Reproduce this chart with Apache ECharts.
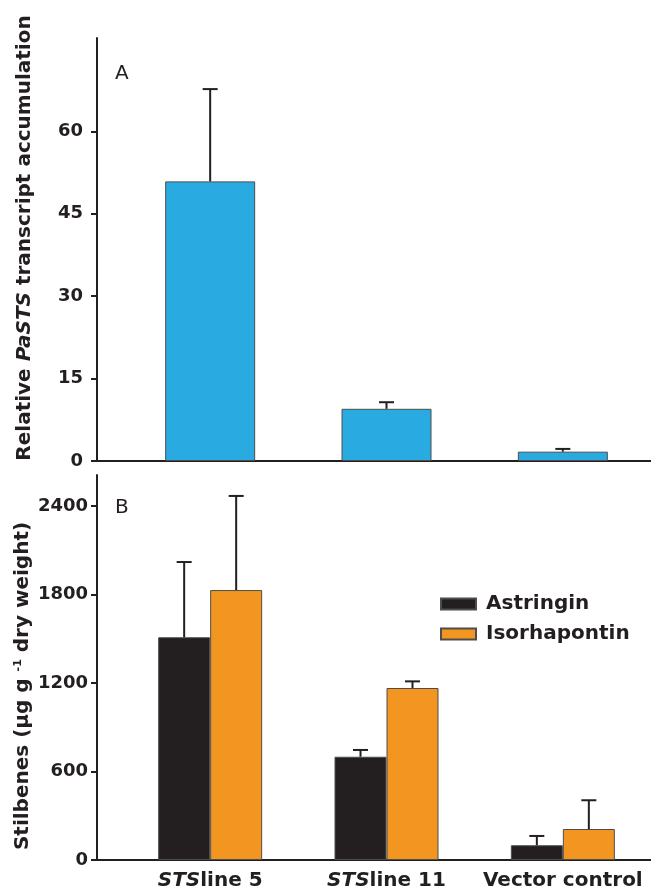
<!DOCTYPE html>
<html>
<head>
<meta charset="utf-8">
<script src="https://cdn.jsdelivr.net/npm/echarts@6/dist/echarts.min.js"></script>
<style>
html,body{margin:0;padding:0;background:#fff;}
#chart{width:651px;height:892px;}
</style>
</head>
<body>
<div id="chart"></div>
<script>
// ---- data ----
const categories = ['STS line 5', 'STS line 11', 'Vector control'];
const transcript = [50.9, 9.5, 1.7];
const transcriptErr = [16.8, 1.2, 0.5];
const astringin = [1510, 700, 100];
const astringinErr = [510, 46, 63];
const isorhapontin = [1830, 1166, 210];
const isorhapontinErr = [638, 45, 195];
const topTicks = [0, 15, 30, 45, 60];
const bottomTicks = [0, 600, 1200, 1800, 2400];

// ---- style ----
const FONT = 'DejaVu Sans';
const INK = '#231f20';
const groupBarWidth = 52;

function errRenderer(offset) {
  return function (params, api) {
    const i = api.value(0), v = api.value(1), e = api.value(2);
    const base = api.coord([i, v]);
    const top = api.coord([i, v + e]);
    const x = base[0] + offset;
    const st = { stroke: INK, lineWidth: 2 };
    return {
      type: 'group',
      children: [
        { type: 'line', shape: { x1: x, y1: base[1], x2: x, y2: top[1] }, style: st },
        { type: 'line', shape: { x1: x - 7.5, y1: top[1], x2: x + 7.5, y2: top[1] }, style: st }
      ]
    };
  };
}

const chart = echarts.init(document.getElementById('chart'), null, { renderer: 'canvas' });

const gridLeft = 122;
const yAxisCommon = {
  type: 'value',
  min: 0,
  offset: gridLeft - 97,
  axisLine: { show: true, lineStyle: { color: INK, width: 2 } },
  axisTick: { show: true, length: 6, lineStyle: { color: INK, width: 2 } },
  axisLabel: { color: INK, fontFamily: FONT, fontWeight: 'bold', fontSize: 18, formatter: v => String(v) },
  splitLine: { show: false }
};

const option = {
  backgroundColor: '#fff',
  animation: false,
  grid: [
    { left: gridLeft, right: 0, top: 38, height: 423 },
    { left: gridLeft, right: 0, top: 475, height: 385 }
  ],
  xAxis: [
    {
      type: 'category', gridIndex: 0, data: categories,
      axisLine: { lineStyle: { color: INK, width: 2 } },
      axisTick: { show: false }, axisLabel: { show: false }
    },
    {
      type: 'category', gridIndex: 1, data: categories,
      axisLine: { lineStyle: { color: INK, width: 2 } },
      axisTick: { show: false },
      axisLabel: {
        interval: 0, margin: 11,
        formatter: function (v) {
          if (v.indexOf('STS ') === 0) return '{i|STS}{b|' + v.slice(4) + '}';
          return '{b|' + v + '}';
        },
        rich: {
          i: { fontFamily: FONT, fontWeight: 'bold', fontStyle: 'italic', fontSize: 20, color: INK },
          b: { fontFamily: FONT, fontWeight: 'bold', fontSize: 20, color: INK }
        }
      }
    }
  ],
  yAxis: [
    Object.assign({}, yAxisCommon, {
      gridIndex: 0, max: 77, interval: 15,
      axisTick: Object.assign({}, yAxisCommon.axisTick, { customValues: topTicks }),
      axisLabel: Object.assign({}, yAxisCommon.axisLabel, { customValues: topTicks, margin: 14 })
    }),
    Object.assign({}, yAxisCommon, {
      gridIndex: 1, max: 2610, interval: 600,
      axisTick: Object.assign({}, yAxisCommon.axisTick, { customValues: bottomTicks }),
      axisLabel: Object.assign({}, yAxisCommon.axisLabel, { customValues: bottomTicks, margin: 9 })
    })
  ],
  legend: {
    orient: 'vertical',
    left: 435, top: 589,
    itemWidth: 35, itemHeight: 11, itemGap: 10,
    icon: 'rect',
    data: ['Astringin', 'Isorhapontin'],
    textStyle: { fontFamily: FONT, fontWeight: 'bold', fontSize: 20, color: INK, padding: [0, 0, 0, 5] }
  },
  series: [
    {
      name: 'Transcript', type: 'bar', xAxisIndex: 0, yAxisIndex: 0,
      data: transcript, barWidth: 90,
      itemStyle: { color: '#29abe2', borderColor: '#4d4d4d', borderWidth: 1 }
    },
    {
      type: 'custom', xAxisIndex: 0, yAxisIndex: 0, z: 5,
      renderItem: errRenderer(0),
      encode: { x: 0, y: 1 },
      data: categories.map((c, i) => [i, transcript[i], transcriptErr[i]])
    },
    {
      name: 'Astringin', type: 'bar', xAxisIndex: 1, yAxisIndex: 1,
      data: astringin, barWidth: groupBarWidth, barGap: '0%',
      itemStyle: { color: INK, borderColor: '#4d4d4d', borderWidth: 1 }
    },
    {
      name: 'Isorhapontin', type: 'bar', xAxisIndex: 1, yAxisIndex: 1,
      data: isorhapontin, barWidth: groupBarWidth, barGap: '0%',
      itemStyle: { color: '#f39621', borderColor: '#4d4d4d', borderWidth: 1 }
    },
    {
      type: 'custom', xAxisIndex: 1, yAxisIndex: 1, z: 5,
      renderItem: errRenderer(-groupBarWidth / 2),
      encode: { x: 0, y: 1 },
      data: categories.map((c, i) => [i, astringin[i], astringinErr[i]])
    },
    {
      type: 'custom', xAxisIndex: 1, yAxisIndex: 1, z: 5,
      renderItem: errRenderer(groupBarWidth / 2),
      encode: { x: 0, y: 1 },
      data: categories.map((c, i) => [i, isorhapontin[i], isorhapontinErr[i]])
    }
  ],
  graphic: [
    { type: 'line', shape: { x1: 97, y1: 461, x2: gridLeft, y2: 461 }, style: { stroke: INK, lineWidth: 2 } },
    { type: 'line', shape: { x1: 97, y1: 860, x2: gridLeft, y2: 860 }, style: { stroke: INK, lineWidth: 2 } },
    { type: 'text', x: 115, y: 74, style: { text: 'A', font: '20px "DejaVu Sans"', fill: INK, textVerticalAlign: 'middle' } },
    { type: 'text', x: 115, y: 508, style: { text: 'B', font: '20px "DejaVu Sans"', fill: INK, textVerticalAlign: 'middle' } },
    {
      type: 'text', x: 25, y: 238, rotation: Math.PI / 2,
      style: {
        text: '{b|Relative }{i|PaSTS}{b| transcript accumulation}',
        textAlign: 'center', textVerticalAlign: 'middle',
        rich: {
          b: { fontFamily: FONT, fontWeight: 'bold', fontSize: 20, fill: INK, color: INK },
          i: { fontFamily: FONT, fontWeight: 'bold', fontStyle: 'italic', fontSize: 20, fill: INK, color: INK }
        }
      }
    },
    {
      type: 'text', x: 23, y: 686, rotation: Math.PI / 2,
      style: {
        text: '{b|Stilbenes (µg g }{s|-1}{b| dry weight)}',
        textAlign: 'center', textVerticalAlign: 'middle',
        rich: {
          b: { fontFamily: FONT, fontWeight: 'bold', fontSize: 20, fill: INK, color: INK },
          s: { fontFamily: FONT, fontWeight: 'bold', fontSize: 11, fill: INK, color: INK, verticalAlign: 'top' }
        }
      }
    }
  ]
};
chart.setOption(option);
</script>
</body>
</html>
